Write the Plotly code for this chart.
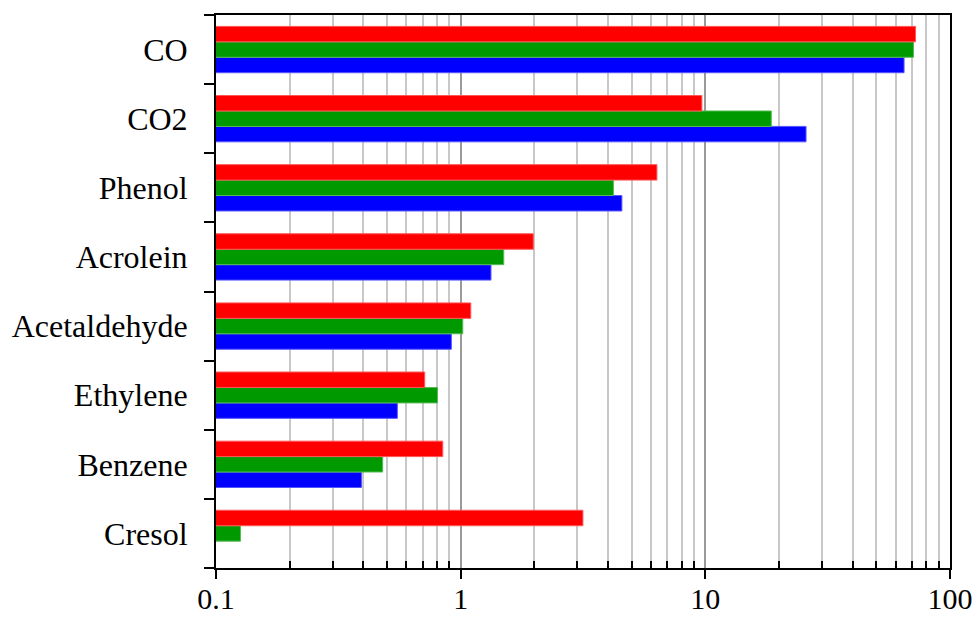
import plotly.graph_objects as go

# categories, bottom to top
compuestos = ['Cresol', 'Benzene', 'Ethylene', 'Acetaldehyde', 'Acrolein', 'Phenol', 'CO2', 'CO']

serie_azul = [None, 0.393, 0.551, 0.916, 1.33, 4.56, 25.8, 64.9]
serie_verde = [0.126, 0.480, 0.804, 1.02, 1.50, 4.21, 18.6, 70.9]
serie_roja = [3.16, 0.845, 0.713, 1.10, 1.98, 6.34, 9.68, 72.3]

ticks_x = [0.1, 1, 10, 100]
ticks_x_txt = ['0.1', '1', '10', '100']
menores = [m * d for d in (0.1, 1, 10) for m in range(2, 10)]

fig = go.Figure()
for nombre, vals, color, borde in [('Azul', serie_azul, '#0000FF', '#5555FF'),
                                   ('Verde', serie_verde, '#009900', '#55BB55'),
                                   ('Rojo', serie_roja, '#FF0000', '#FF5555')]:
    fig.add_trace(go.Bar(y=compuestos, x=vals, name=nombre, orientation='h',
                         marker=dict(color=color, line=dict(color=borde, width=1))))

fig.update_layout(
    width=976, height=617,
    margin=dict(l=216, r=26, t=15, b=49),
    barmode='group', bargap=0.33, bargroupgap=0,
    showlegend=False,
    paper_bgcolor='white', plot_bgcolor='white',
    font=dict(family='Liberation Serif', size=32, color='black'),
)
fig.update_xaxes(
    type='log', range=[-1, 2], automargin=False,
    tickmode='array', tickvals=ticks_x, ticktext=ticks_x_txt,
    ticks='outside', ticklen=9, tickwidth=2, tickcolor='black',
    tickfont=dict(size=30), ticklabelstandoff=-6,
    showgrid=True, gridcolor='#9a9a9a', gridwidth=2,
    showline=True, linecolor='black', linewidth=2, mirror=True,
    zeroline=False,
    minor=dict(tickmode='array', tickvals=menores, ticks='inside', ticklen=7,
               tickwidth=1.5, tickcolor='black', showgrid=True,
               gridcolor='#c8c8c8', gridwidth=1.5),
)
fig.update_yaxes(
    type='category', categoryorder='array', categoryarray=compuestos,
    automargin=False,
    tickson='boundaries', ticks='outside', ticklen=10, tickwidth=2, tickcolor='black',
    showgrid=False,
    showline=True, linecolor='black', linewidth=2, mirror=True,
    ticklabelstandoff=20,
)

# sin margen del body para que la figura quede en 0,0
fig.write_html("out.html", config={'displayModeBar': False},
               post_script="document.body.style.margin='0';")
